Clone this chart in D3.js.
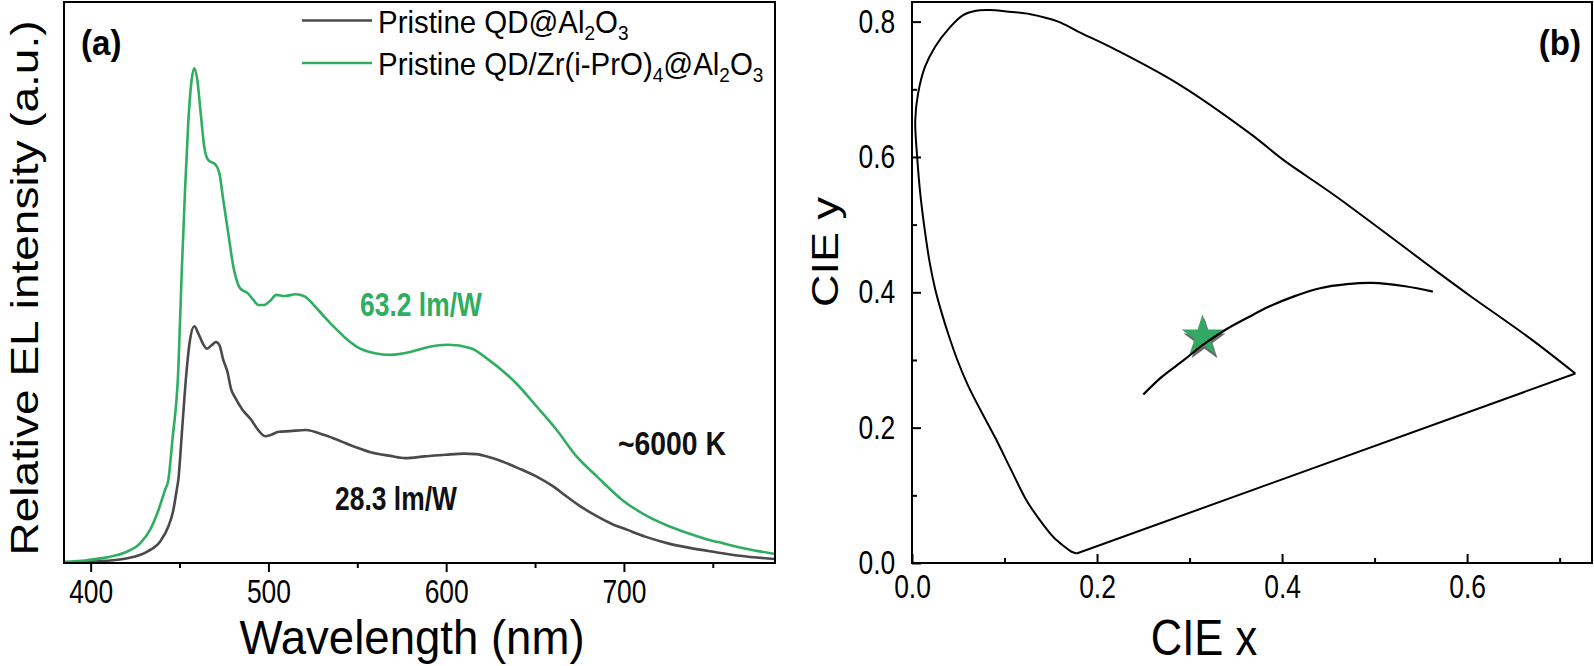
<!DOCTYPE html>
<html><head><meta charset="utf-8">
<script src="https://cdn.jsdelivr.net/npm/d3@7"></script>
<style>
html,body{margin:0;padding:0;background:#fff;}
svg{display:block;}
text{font-family:"Liberation Sans",Arial,sans-serif;}
</style></head>
<body>
<svg id="chart" width="1594" height="666"></svg>
<script>
// ---------- DATA ----------
// Panel (a): EL spectra [wavelength nm, relative intensity]
const spectrumPristine = [
 [385,0.001],[395,0.002],[409,0.004],[420,0.008],[431.6,0.020],[439,0.038],[443.7,0.065],[446.5,0.094],
 [448.4,0.130],[449.3,0.148],[451.5,0.240],[454,0.344],[455.9,0.398],[458.3,0.422],[460.6,0.409],[463,0.392],
 [465.5,0.382],[468,0.388],[470.5,0.394],[472.5,0.388],[474.6,0.362],[477,0.340],[479,0.310],[481.1,0.296],
 [485.4,0.273],[490.4,0.255],[494,0.238],[498.1,0.226],[501.2,0.228],[505.8,0.234],[512,0.235],[521,0.237],
 [531.5,0.228],[540,0.218],[548.6,0.207],[558,0.197],[568.5,0.191],[577,0.187],[588,0.190],[599.7,0.193],
 [610,0.195],[616.8,0.194],[625,0.188],[633.9,0.178],[642,0.167],[650.9,0.154],[660,0.137],[668,0.118],
 [676,0.100],[685,0.083],[693,0.070],[702,0.059],[712,0.047],[724.8,0.035],[737,0.027],[750.3,0.020],
 [765,0.013],[785,0.007]
];
const spectrumZr = [
 [385,0.002],[398,0.005],[409,0.010],[420.3,0.020],[427.8,0.035],[433.4,0.059],[438.1,0.094],[441.8,0.130],
 [443.7,0.148],[446,0.220],[449.3,0.344],[451.2,0.516],[453.1,0.665],[454.9,0.784],[456.8,0.861],[458.3,0.882],
 [460,0.861],[461.9,0.802],[463.9,0.742],[466.2,0.718],[470,0.711],[472.4,0.695],[474.6,0.647],[477.4,0.588],
 [480.3,0.528],[484,0.490],[488.3,0.481],[491.3,0.470],[494.3,0.460],[497.6,0.460],[501.2,0.468],[504.4,0.478],
 [509.4,0.476],[515.3,0.479],[520.4,0.475],[528,0.451],[535.9,0.424],[543,0.402],[550,0.385],[559.9,0.374],
 [568.5,0.371],[579.8,0.376],[590,0.385],[601,0.389],[613.9,0.383],[623.9,0.362],[632,0.342],[639.5,0.320],
 [650.9,0.279],[662.2,0.237],[673.6,0.189],[684.9,0.154],[699.2,0.112],[713.4,0.083],[725,0.066],[736.1,0.053],
 [746,0.043],[756,0.035],[768,0.026],[785,0.016]
];
const seriesNames = ["Pristine QD@Al2O3", "Pristine QD/Zr(i-PrO)4@Al2O3"];
const wlTicks = [400,500,600,700];
const wlMinorTicks = [450,550,650,750];
const annotations = ["63.2 lm/W", "~6000 K", "28.3 lm/W"];

// Panel (b): CIE 1931 chromaticity diagram [x, y]
const spectralLocus = [
 [0.178,0.014],[0.172,0.017],[0.164,0.025],[0.153,0.038],[0.140,0.060],[0.124,0.092],[0.107,0.138],
 [0.090,0.185],[0.074,0.226],[0.060,0.264],[0.049,0.300],[0.040,0.335],[0.032,0.370],[0.025,0.405],
 [0.019,0.445],[0.014,0.490],[0.009,0.545],[0.0056,0.600],[0.0035,0.654],[0.0066,0.694],[0.014,0.733],
 [0.025,0.763],[0.040,0.790],[0.0545,0.809],[0.069,0.816],[0.084,0.817],[0.102,0.815],[0.128,0.811],
 [0.158,0.800],[0.180,0.785],[0.221,0.758],[0.289,0.707],[0.367,0.633],[0.401,0.596],[0.457,0.543],
 [0.570,0.428],[0.603,0.395],[0.668,0.332],[0.717,0.280]
];
const planckianLocus = [
 [0.250,0.249],[0.270,0.275],[0.294,0.300],[0.314,0.322],[0.338,0.344],[0.362,0.362],[0.386,0.379],
 [0.413,0.394],[0.441,0.406],[0.470,0.412],[0.497,0.414],[0.533,0.409],[0.563,0.401]
];
const whitePoint = [0.314, 0.335];
const cieTicks = [0.0,0.2,0.4,0.6];
const cieMinorTicks = [0.1,0.3,0.5,0.7];
const cieYTicks = [0.0,0.2,0.4,0.6,0.8];

// ---------- STYLE ----------
const GRAY = "#4a4a4a", GREEN = "#2fae62", STAR = "#33a862";
const SQ = 0.84;          // horizontal squeeze of the original figure's lettering
const svg = d3.select("#chart");

function htext(g, x, y, size, str, opt={}){
  const t = g.append("text")
    .attr("transform",`translate(${x},${y}) scale(${opt.sx||SQ},1)`)
    .attr("font-size",size)
    .attr("text-anchor",opt.anchor||"start")
    .attr("fill",opt.fill||"#000");
  if(opt.bold) t.attr("font-weight","bold");
  if(str!==null) t.text(str);
  return t;
}
function vtext(g, x, y, size, str){
  return g.append("text")
    .attr("transform",`translate(${x},${y}) rotate(-90) scale(1,${SQ})`)
    .attr("font-size",size).attr("text-anchor","middle").text(str);
}
function styleTicks(sel){
  sel.selectAll(".tick line").attr("stroke","#000").attr("stroke-width",2);
  sel.selectAll(".tick text").attr("font-size",33).attr("fill","#000")
    .style("font-family","'Liberation Sans',Arial,sans-serif")
    .attr("transform",`scale(0.8,1)`);
}

// ---------- PANEL A ----------
const A = {l:64, r:775, t:2, b:563};
const xA = d3.scaleLinear().domain([385,785]).range([A.l, A.r]);
const yA = d3.scaleLinear().domain([0,1]).range([A.b, A.t]);

const gA = svg.append("g");
gA.append("defs").append("clipPath").attr("id","clipA").append("rect")
  .attr("x",A.l).attr("y",A.t).attr("width",A.r-A.l).attr("height",A.b-A.t);

const lineA = d3.line().x(d=>xA(d[0])).y(d=>yA(d[1])).curve(d3.curveMonotoneX);
gA.append("path").datum(spectrumPristine).attr("d",lineA).attr("fill","none")
  .attr("clip-path","url(#clipA)").attr("stroke",GRAY).attr("stroke-width",2.6);
gA.append("path").datum(spectrumZr).attr("d",lineA).attr("fill","none")
  .attr("clip-path","url(#clipA)").attr("stroke",GREEN).attr("stroke-width",2.6);

gA.append("rect").attr("x",A.l).attr("y",A.t).attr("width",A.r-A.l).attr("height",A.b-A.t)
  .attr("fill","none").attr("stroke","#000").attr("stroke-width",2);

const axA = gA.append("g").attr("transform",`translate(0,${A.b})`)
  .call(d3.axisBottom(xA).tickValues(wlTicks).tickSize(9).tickSizeOuter(0).tickPadding(8));
axA.select(".domain").remove();
styleTicks(axA);
gA.append("g").attr("transform",`translate(0,${A.b})`)
  .call(d3.axisBottom(xA).tickValues(wlMinorTicks).tickSize(5).tickFormat(""))
  .call(g=>{g.select(".domain").remove(); g.selectAll("text").remove();
            g.selectAll("line").attr("stroke-width",2);});

htext(gA, 412, 654, 49, "Wavelength (nm)", {anchor:"middle", sx:0.93});
vtext(gA, 38, 288, 46, "Relative EL intensity (a.u.)");

htext(gA, 81, 55, 36, "(a)", {bold:true, sx:0.92});

// legend
const legendParts = [
  [{t:"Pristine QD@Al"},{t:"2",sub:1},{t:"O"},{t:"3",sub:1}],
  [{t:"Pristine QD/Zr(i-PrO)"},{t:"4",sub:1},{t:"@Al"},{t:"2",sub:1},{t:"O"},{t:"3",sub:1}]
];
const legendColors = [GRAY, GREEN];
const legendY = [20.5, 63];
legendParts.forEach((parts,i)=>{
  const yy = legendY[i];
  gA.append("line").attr("x1",302).attr("x2",372).attr("y1",yy).attr("y2",yy)
    .attr("stroke",legendColors[i]).attr("stroke-width",2.6);
  const t = htext(gA, 378, yy+12, 31, null, {sx:0.95}).attr("data-series",seriesNames[i]);
  let down = false;
  parts.forEach(p=>{
    const ts = t.append("tspan").text(p.t);
    if(p.sub){ ts.attr("font-size",20).attr("dy",7); down = true; }
    else if(down){ ts.attr("dy",-7); down = false; }
  });
});

// annotations
htext(gA, 421, 316, 33, annotations[0], {anchor:"middle", bold:true, fill:GREEN, sx:0.8});
htext(gA, 672, 455, 33, annotations[1], {anchor:"middle", bold:true, fill:"#111", sx:0.86});
htext(gA, 396, 510, 33, annotations[2], {anchor:"middle", bold:true, fill:"#111", sx:0.8});

// ---------- PANEL B ----------
const B = {l:912, r:1592, t:2, b:563};
const xB = d3.scaleLinear().domain([0,0.735]).range([B.l, B.r]);
const yB = d3.scaleLinear().domain([0,0.829]).range([B.b, B.t]);
const gB = svg.append("g");
gB.append("rect").attr("x",B.l).attr("y",B.t).attr("width",B.r-B.l).attr("height",B.b-B.t)
  .attr("fill","none").attr("stroke","#000").attr("stroke-width",2);

const axBx = gB.append("g").attr("transform",`translate(0,${B.b})`)
  .call(d3.axisBottom(xB).tickValues(cieTicks).tickSize(-9).tickPadding(12).tickFormat(d3.format(".1f")));
axBx.select(".domain").remove();
styleTicks(axBx);
gB.append("g").attr("transform",`translate(0,${B.b})`)
  .call(d3.axisBottom(xB).tickValues(cieMinorTicks).tickSize(-5).tickFormat(""))
  .call(g=>{g.select(".domain").remove(); g.selectAll("text").remove();
            g.selectAll("line").attr("stroke-width",2);});
const axBy = gB.append("g").attr("transform",`translate(${B.l},0)`)
  .call(d3.axisLeft(yB).tickValues(cieYTicks).tickSize(-9).tickPadding(21).tickFormat(d3.format(".1f")));
axBy.select(".domain").remove();
styleTicks(axBy);
gB.append("g").attr("transform",`translate(${B.l},0)`)
  .call(d3.axisLeft(yB).tickValues(cieMinorTicks).tickSize(-5).tickFormat(""))
  .call(g=>{g.select(".domain").remove(); g.selectAll("text").remove();
            g.selectAll("line").attr("stroke-width",2);});

const lineB = d3.line().x(d=>xB(d[0])).y(d=>yB(d[1])).curve(d3.curveCatmullRom);
gB.append("path").datum(spectralLocus).attr("d",lineB).attr("fill","none")
  .attr("stroke","#000").attr("stroke-width",2);
gB.append("path").datum([spectralLocus[spectralLocus.length-1], spectralLocus[0]])
  .attr("d",d3.line().x(d=>xB(d[0])).y(d=>yB(d[1]))).attr("fill","none")
  .attr("stroke","#000").attr("stroke-width",2);

const star = d3.symbol().type(d3.symbolStar).size(545);
gB.append("path").attr("d",star()).attr("fill","#5a5a5a").attr("opacity",0.9)
  .attr("transform",`translate(${xB(whitePoint[0])+2},${yB(whitePoint[1])+4})`);
gB.append("path").attr("d",star()).attr("fill",STAR)
  .attr("transform",`translate(${xB(whitePoint[0])},${yB(whitePoint[1])})`);
gB.append("path").datum(planckianLocus).attr("d",lineB).attr("fill","none")
  .attr("stroke","#000").attr("stroke-width",2.2);

htext(gB, 1204, 655, 50, "CIE x", {anchor:"middle", sx:0.87});
vtext(gB, 838, 252, 45, "CIE y");
htext(gB, 1581, 55, 36, "(b)", {anchor:"end", bold:true, sx:0.92});
</script>
</body></html>
